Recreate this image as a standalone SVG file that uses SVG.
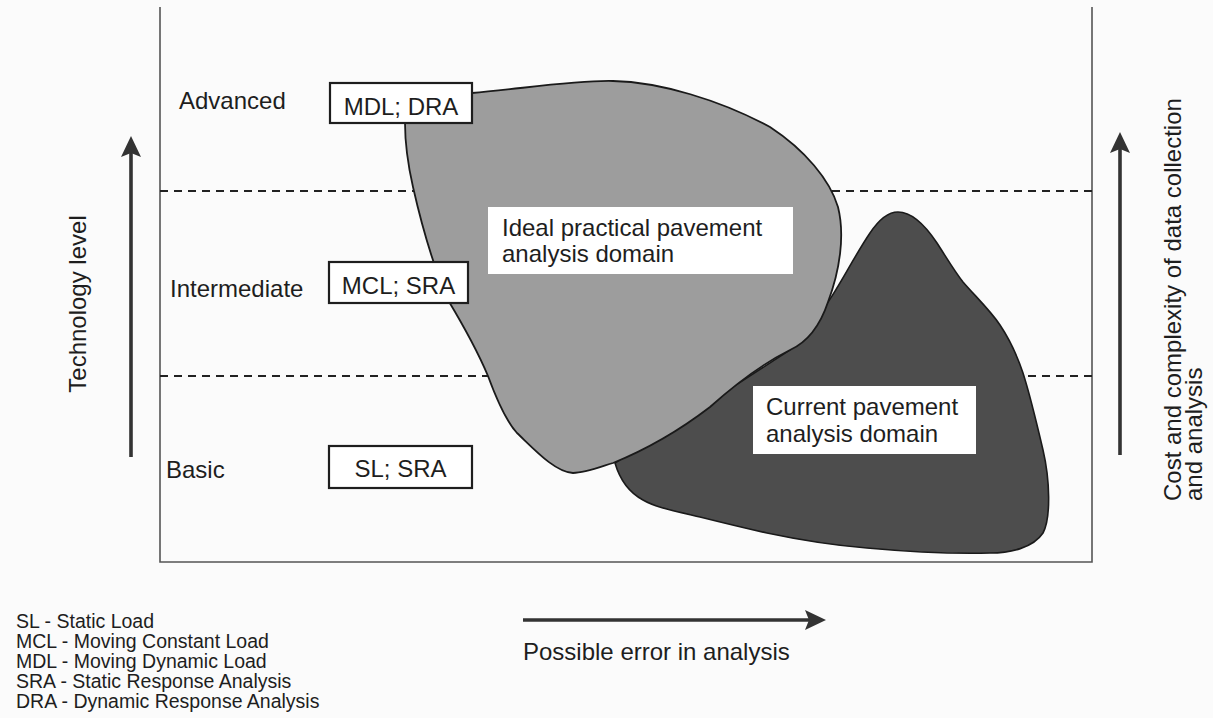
<svg xmlns="http://www.w3.org/2000/svg" width="1213" height="718" viewBox="0 0 1213 718">
<style>
text{font-family:"Liberation Sans",Arial,sans-serif;fill:#1e1e1e}
.lbl{font-size:24px}
.leg{font-size:19.5px}
.frame{stroke:#555;stroke-width:1.6;fill:none}
.dash{stroke:#222;stroke-width:2;stroke-dasharray:8 6;fill:none}
.box{fill:#fff;stroke:#1e1e1e;stroke-width:2.2}
.wbox{fill:#fff;stroke:none}
.arrow{stroke:#333;stroke-width:3.6;fill:none;marker-end:url(#ah)}
</style>
<defs>
<marker id="ah" markerUnits="userSpaceOnUse" markerWidth="22" markerHeight="22" viewBox="0 0 22 22" refX="8" refY="11" orient="auto">
<path d="M0,1 L21,11 L0,21 L4,11 Z" fill="#333"/>
</marker>
</defs>
<rect x="0" y="0" width="1213" height="718" fill="#fbfbfb"/>

<g id="frame">
<path class="frame" d="M160,7 L160,562 L1092,562 L1092,7"/>
</g>

<g id="connectors">
<line class="dash" x1="160" y1="191" x2="1092" y2="191"/>
<line class="dash" x1="160" y1="376" x2="1092" y2="376"/>
<line class="arrow" x1="131" y1="457" x2="131" y2="149"/>
<line class="arrow" x1="1120" y1="455" x2="1120" y2="145"/>
<line class="arrow" x1="523" y1="620" x2="813" y2="620"/>
</g>

<g id="current-domain">
<path fill="#4d4d4d" stroke="#1a1a1a" stroke-width="1.6" d="M828,302 C840,285 855,255 870,233 C880,218 890,212 898,212 C912,212 925,225 937,243 C948,260 955,272 963,282 C975,296 990,310 1000,325 C1010,340 1018,358 1023,373 C1030,395 1036,420 1043,450 C1050,480 1051,518 1043,533 C1033,548 1010,553 990,553 C950,554 900,551 867,548 C830,545 800,540 767,533 C740,527 720,522 700,517 C670,510 655,507 643,500 C630,493 620,480 615,463 L790,350 Z"/>
</g>

<g id="ideal-domain">
<path fill="#9d9d9d" stroke="#1a1a1a" stroke-width="1.8" d="M408,96 L472,93 C520,89 575,80 613,81 C660,82 720,100 770,127 C805,150 830,180 838,207 C845,235 840,270 828,302 C822,320 812,340 790,350 C770,360 740,380 710,407 C680,430 645,450 613,463 C600,467 585,473 573,473 C555,472 535,450 517,433 C505,420 495,395 488,376 C475,345 460,320 448,300 C435,270 425,240 413,187 C408,165 405,140 405,123 Z"/>
</g>

<g id="ideal-label">
<rect class="wbox" x="488" y="207" width="305" height="67"/>
<text class="lbl" x="502" y="236">Ideal practical pavement</text>
<text class="lbl" x="502" y="262">analysis domain</text>
</g>

<g id="current-label">
<rect class="wbox" x="753" y="386" width="223" height="68"/>
<text class="lbl" x="766" y="415">Current pavement</text>
<text class="lbl" x="766" y="442">analysis domain</text>
</g>

<g id="level-advanced">
<text class="lbl" x="179" y="109">Advanced</text>
</g>
<g id="level-intermediate">
<text class="lbl" x="170" y="297">Intermediate</text>
</g>
<g id="level-basic">
<text class="lbl" x="166" y="478">Basic</text>
</g>

<g id="box-mdl">
<rect class="box" x="330" y="83" width="142" height="40"/>
<text class="lbl" x="401" y="115" text-anchor="middle">MDL; DRA</text>
</g>
<g id="box-mcl">
<rect class="box" x="329" y="262" width="139" height="41"/>
<text class="lbl" x="398.5" y="294" text-anchor="middle">MCL; SRA</text>
</g>
<g id="box-sl">
<rect class="box" x="329" y="446" width="143" height="42"/>
<text class="lbl" x="400.5" y="477" text-anchor="middle">SL; SRA</text>
</g>

<g id="axis-y-label">
<text class="lbl" transform="translate(86,304) rotate(-90)" text-anchor="middle">Technology level</text>
</g>
<g id="axis-cost-label">
<text class="lbl" transform="translate(1181,501) rotate(-90)">Cost and complexity of data collection</text>
<text class="lbl" transform="translate(1202,501) rotate(-90)">and analysis</text>
</g>
<g id="axis-x-label">
<text class="lbl" x="523" y="660">Possible error in analysis</text>
</g>

<g id="legend">
<text class="leg" x="16" y="628">SL - Static Load</text>
<text class="leg" x="16" y="648">MCL - Moving Constant Load</text>
<text class="leg" x="16" y="668">MDL - Moving Dynamic Load</text>
<text class="leg" x="16" y="688">SRA - Static Response Analysis</text>
<text class="leg" x="16" y="708">DRA - Dynamic Response Analysis</text>
</g>
</svg>
